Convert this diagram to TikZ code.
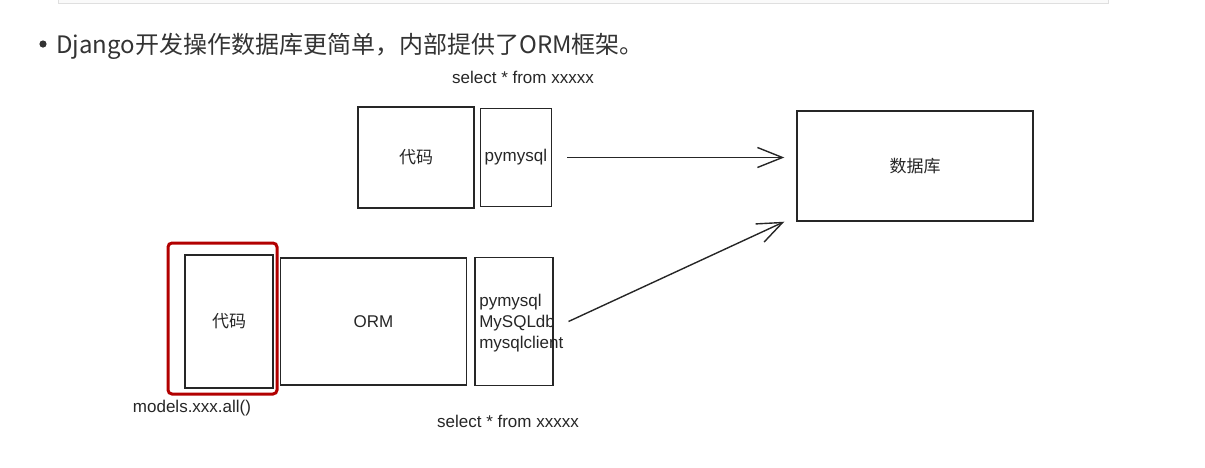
\documentclass[tikz,border=0pt]{standalone}
\usepackage{fontspec}
\setmainfont{Liberation Sans}
\newfontfamily\cjk{Noto Sans CJK SC}
\usetikzlibrary{arrows.meta,positioning}

\begin{document}
\begin{tikzpicture}[x=1pt, y=-1pt, >={Straight Barb[length=25pt,width=20pt]},
    font=\fontsize{17}{21}\selectfont, text=black!85,
    box/.style={draw=black!85, line width=1.4pt, inner sep=0pt},
    arr/.style={->, draw=black!85, line width=1.4pt, shorten <=15pt, shorten >=12pt},
    hilite/.style={draw=red!70!black, line width=3pt, rounded corners=4pt, inner sep=0pt}]
\useasboundingbox (0,0) rectangle (1205,467);
% bottom edge of the code block above
\draw[gray!25, fill=gray!4] (58,-10) rectangle (1108,3);
\fill[black!80] (43,44) circle (3.6pt);
\node[anchor=west, inner sep=0pt, text=black!80, font=\cjk\fontsize{24}{26}\selectfont] (title) at (56,46)
  {Django开发操作数据库更简单，内部提供了ORM框架。};
% plain way
\node[box, minimum width=116pt, minimum height=101pt, font=\cjk\fontsize{17}{20}\selectfont] (code1) at (416,157.5) {代码};
\node[box, minimum width=71pt, minimum height=98pt, right=5pt of code1] (pym) {pymysql};
\node[box, minimum width=236pt, minimum height=110pt, font=\cjk\fontsize{17}{20}\selectfont] (db) at (915,166) {数据库};
\node (sql1) at (523,77) {select * from xxxxx};
% with the ORM
\node[hilite, minimum width=109pt, minimum height=151pt] (hl) at (222.5,318.5) {};
\node[box, minimum width=88pt, minimum height=133pt, font=\cjk\fontsize{17}{20}\selectfont] (code2) at (229,321.5) {代码};
\node[box, minimum width=186pt, minimum height=127pt, right=6pt of code2] (orm) {ORM};
\node[box, minimum width=78pt, minimum height=128pt, right=7pt of orm] (drv) {};
\node[anchor=west, align=left, inner sep=0pt] (drvtxt) at ([xshift=5pt,yshift=-2pt]drv.west) {pymysql\\MySQLdb\\mysqlclient};
\node (models) at (192,408) {models.xxx.all()};
\node (sql2) at (508,421) {select * from xxxxx};
\draw[arr] (pym.east) -- (pym.east -| db.west);
\draw[arr, shorten <=0pt, shorten >=0pt] ([xshift=15pt]drv.east) -- ([xshift=-12pt]db.south west);
\end{tikzpicture}
\end{document}
